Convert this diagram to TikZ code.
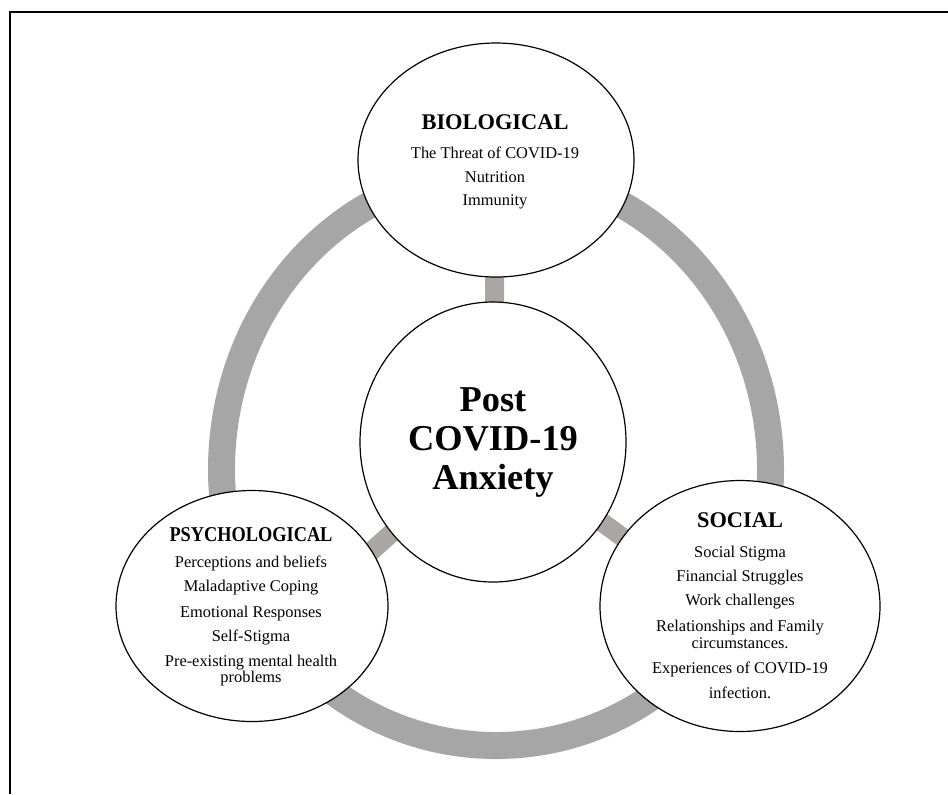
\documentclass[tikz,border=0pt]{standalone}
\usepackage{fontspec}
\setmainfont{Liberation Serif}
\usetikzlibrary{shapes.geometric,calc,backgrounds}
\definecolor{ringgray}{RGB}{166,166,166}
\definecolor{spokegray}{RGB}{170,166,166}
\newcommand{\ttlfont}{\bfseries\fontsize{16.8pt}{12.5pt}\selectfont}
\begin{document}
\begin{tikzpicture}[x=0.75pt,y=-0.75pt,
  bubble/.style={draw=black,line width=0.9pt,fill=white,ellipse,inner sep=0pt},
  ringline/.style={draw=ringgray,line width=20.25pt},
  spoke/.style={draw=spokegray,line width=14.25pt},
  framestyle/.style={draw=black,line width=1.5pt},
  bodytext/.style={align=center,inner sep=0pt,anchor=north,font=\fontsize{12.3pt}{12.5pt}\selectfont},
  bigtext/.style={align=center,inner sep=0pt,anchor=north,font=\bfseries\fontsize{27.3pt}{29.25pt}\selectfont}
]
\useasboundingbox (0,0) rectangle (948,794);

% frame
\coordinate (fTL) at (10.3,11.7);
\coordinate (fTR) at (948,11.7);
\coordinate (fBL) at (10.3,794);
\draw[framestyle] (fTR) -- (fTL) -- (fBL);

% bubbles
\node[bubble,minimum width=207pt,minimum height=175.5pt] (bio) at (496,160) {};
\node[bubble,minimum width=199.5pt,minimum height=210pt] (cen) at (493,442) {};
\node[bubble,minimum width=204pt,minimum height=173.25pt] (psy) at (252,606) {};
\node[bubble,minimum width=210pt,minimum height=188.25pt] (soc) at (740,606) {};

\coordinate (sp1) at (380.5,543);
\coordinate (sp2) at (611.7,529.3);
\coordinate (ringstart) at (770.5,470);

\begin{scope}[on background layer]
  \draw[ringline] (ringstart) arc[start angle=0,end angle=-180,x radius=274.5,y radius=298.5]
                  arc[start angle=180,end angle=0,x radius=274.5,y radius=275.5];
  \draw[spoke] (bio.center) -- (cen.center);
  \draw[spoke] (cen.center) -- ($(cen.center)!2!(sp1)$);
  \draw[spoke] (cen.center) -- ($(cen.center)!2!(sp2)$);
\end{scope}

% texts
\node[bodytext] (biotxt) at (495,114) {{\ttlfont BIOLOGICAL}\\[9.25pt]
  The Threat of COVID-19\\[5.5pt]
  Nutrition\\[5pt]
  Immunity};

\node[bigtext] (centxt) at (493,387) {Post\\COVID-19\\Anxiety};

\node[bodytext] (psytxt) at (251,527) {{\bfseries\fontsize{15.8pt}{12.5pt}\selectfont\scalebox{0.87}[1]{PSYCHOLOGICAL}}\\[7pt]
  Perceptions and beliefs\\[6pt]
  Maladaptive Coping\\[6.5pt]
  Emotional Responses\\[5.5pt]
  Self-Stigma\\[6.25pt]
  Pre-existing mental health\\
  problems};

\node[bodytext] (soctxt) at (740,512) {{\ttlfont SOCIAL}\\[10pt]
  Social Stigma\\[5.7pt]
  Financial Struggles\\[5.5pt]
  Work challenges\\[7pt]
  Relationships and Family\\
  circumstances.\\[6.25pt]
  Experiences of COVID-19\\[6.8pt]
  infection.};
\end{tikzpicture}
\end{document}
